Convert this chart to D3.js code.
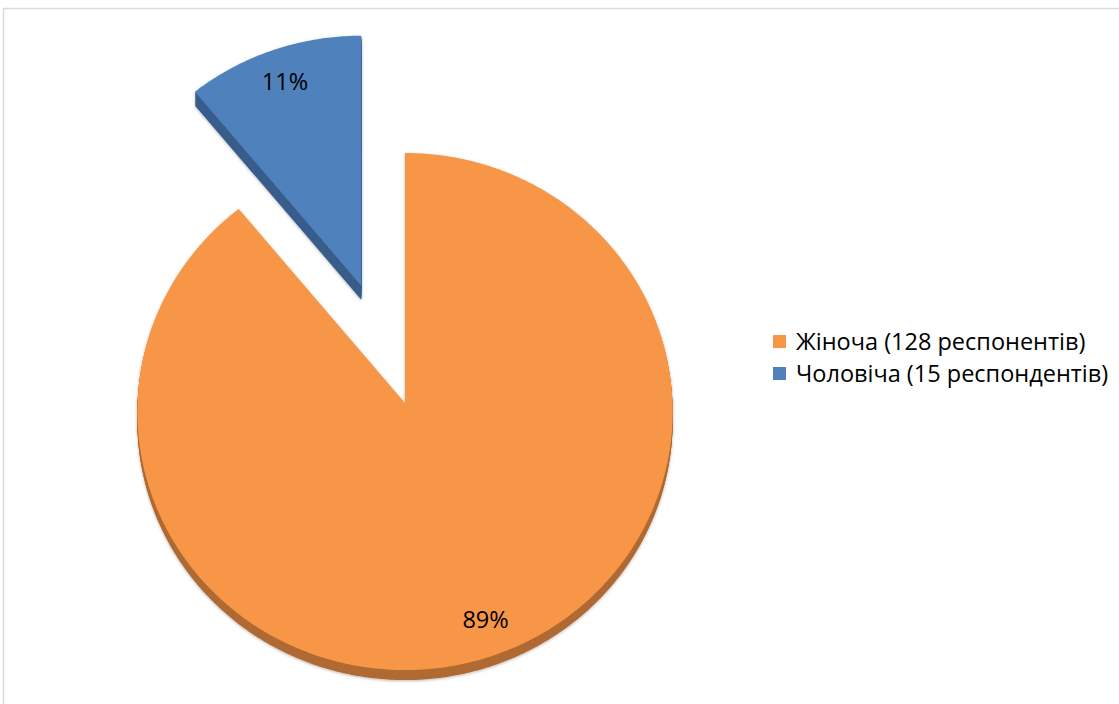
<!DOCTYPE html>
<html>
<head>
<meta charset="utf-8">
<script src="https://cdn.jsdelivr.net/npm/d3@7/dist/d3.min.js"></script>
<style>
  html, body { margin: 0; padding: 0; background: #ffffff; }
  svg { display: block; }
  text { font-family: "Open Sans", "Noto Sans", sans-serif; fill: #000; }
</style>
</head>
<body>
<svg id="chart" width="1119" height="704"></svg>
<script>
// Respondent gender split
const categories = ["Жіноча", "Чоловіча"];
const respondents = [128, 15];
const shares = [89, 11];            // percent labels shown on the slices
const legendLabels = ["Жіноча (128 респонентів)", "Чоловіча (15 респондентів)"];
const explode = [0, 0.49];          // radial pull-out of each slice
const faceColors = ["#F79646", "#4F81BD"];
const sideColors = ["#B06A32", "#3A5E8B"];

const svg = d3.select("#chart");
const W = 1119, H = 704;

// chart frame
svg.append("rect")
  .attr("x", 3.5).attr("y", 8.5)
  .attr("width", W + 10).attr("height", H + 10)
  .attr("fill", "#fff")
  .attr("stroke", "#d9d9d9").attr("stroke-width", 1.5);

const defs = svg.append("defs");
const soft = defs.append("filter").attr("id", "soft")
  .attr("x", "-10%").attr("y", "-10%").attr("width", "120%").attr("height", "120%");
soft.append("feDropShadow")
  .attr("dx", 0).attr("dy", 1).attr("stdDeviation", 1.4)
  .attr("flood-color", "#000").attr("flood-opacity", 0.28);

// tilted pie geometry
const cx = 405, cy = 403;
const RX = 267.5, RY = 258.25, K = 0.033;
const depth = [10, 14];

// project a point of the pie disc (angle clockwise from 12 o'clock, radius fraction t)
function project(a, t) {
  const u = t * Math.sin(a), v = -t * Math.cos(a);
  const p = 1 / (1 - v * K);
  return [u * RX * p, v * RY * p];
}

const pie = d3.pie().sort(null).value(d => d);
const arcs = pie(shares);

const line = d3.line().curve(d3.curveLinear);

function slicePoints(d, ox, oy) {
  const n = Math.max(8, Math.ceil((d.endAngle - d.startAngle) / 0.01));
  const pts = [[ox, oy]];
  d3.range(n + 1).forEach(i => {
    const a = d.startAngle + (d.endAngle - d.startAngle) * i / n;
    const q = project(a, 1);
    pts.push([ox + q[0], oy + q[1]]);
  });
  return pts;
}

const g = svg.append("g");

arcs.forEach((d, i) => {
  const mid = (d.startAngle + d.endAngle) / 2;
  const off = project(mid, explode[i]);
  const ox = cx + off[0], oy = cy + off[1];
  const pts = slicePoints(d, ox, oy);
  const sg = g.append("g").attr("class", "slice").attr("filter", "url(#soft)");
  // extruded side
  d3.range(depth[i], 0, -1).forEach(k => {
    sg.append("path")
      .attr("d", line(pts.map(p => [p[0], p[1] + k])) + "Z")
      .attr("fill", sideColors[i]);
  });
  // top face
  sg.append("path")
    .attr("d", line(pts) + "Z")
    .attr("fill", faceColors[i]);
  d.ox = ox; d.oy = oy; d.mid = mid;
});

// percent labels
arcs.forEach((d, i) => {
  const q = project(d.mid, 0.865);
  g.append("text")
    .attr("x", d.ox + q[0])
    .attr("y", d.oy + q[1])
    .attr("text-anchor", "middle")
    .attr("dominant-baseline", "central")
    .attr("font-size", 23.5)
    .text(shares[i] + "%");
});

// legend
const legend = svg.append("g").attr("transform", "translate(773,335)");
legendLabels.forEach((lab, i) => {
  const row = legend.append("g").attr("transform", `translate(0,${i * 32})`);
  row.append("rect").attr("x", 0).attr("y", 0).attr("width", 13).attr("height", 13)
    .attr("fill", faceColors[i]);
  row.append("text").attr("x", 23).attr("y", 15)
    .attr("font-size", 23.5)
    .text(lab);
});
</script>
</body>
</html>
